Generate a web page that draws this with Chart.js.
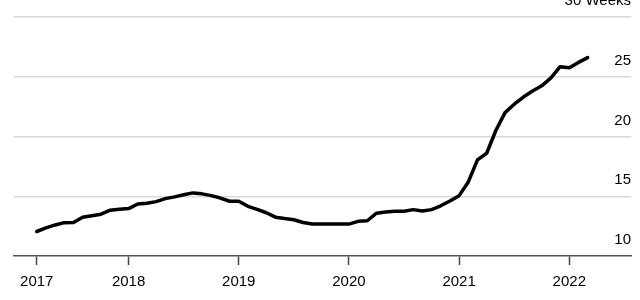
<!DOCTYPE html>
<html>
<head>
<meta charset="utf-8">
<script src="https://cdn.jsdelivr.net/npm/chart.js@4.4.1/dist/chart.umd.min.js"></script>
<style>
  html, body { margin: 0; padding: 0; background: #fff; }
  #wrap { width: 640px; height: 300px; }
</style>
</head>
<body>
<div id="wrap"><canvas id="chart"></canvas></div>
<script>
// monthly readings, Mar 2017 - Mar 2022
const months = [
    '2017-03', '2017-04', '2017-05', '2017-06', '2017-07', '2017-08', '2017-09', '2017-10', '2017-11', '2017-12',
    '2018-01', '2018-02', '2018-03', '2018-04', '2018-05', '2018-06', '2018-07', '2018-08', '2018-09', '2018-10', '2018-11', '2018-12',
    '2019-01', '2019-02', '2019-03', '2019-04', '2019-05', '2019-06', '2019-07', '2019-08', '2019-09', '2019-10', '2019-11', '2019-12',
    '2020-01', '2020-02', '2020-03', '2020-04', '2020-05', '2020-06', '2020-07', '2020-08', '2020-09', '2020-10', '2020-11', '2020-12',
    '2021-01', '2021-02', '2021-03', '2021-04', '2021-05', '2021-06', '2021-07', '2021-08', '2021-09', '2021-10', '2021-11', '2021-12',
    '2022-01', '2022-02', '2022-03'
];
const weeks = [
    12.05, 12.35, 12.6, 12.79, 12.8, 13.25, 13.37, 13.5, 13.83, 13.92,
    13.97, 14.35, 14.42, 14.55, 14.8, 14.95, 15.13, 15.28, 15.2, 15.05, 14.85, 14.58,
    14.58, 14.16, 13.9, 13.62, 13.25, 13.13, 13.03, 12.8, 12.68, 12.67, 12.67, 12.67,
    12.67, 12.9, 12.95, 13.58, 13.68, 13.74, 13.75, 13.88, 13.76, 13.88, 14.2, 14.6,
    15.05, 16.2, 18.05, 18.6, 20.5, 22.0, 22.7, 23.3, 23.8, 24.24, 24.9, 25.84,
    25.75, 26.2, 26.6
];
const yearTicks = ['2017-03', '2018-01', '2019-01', '2020-01', '2021-01', '2022-01'];
const yTicks = [10, 15, 20, 25, 30];

const toYear = (s) => {
    const [y, m] = s.split('-').map(Number);
    return y + (m - 1) / 12;
};

const points = months.map((m, i) => ({ x: toYear(m), y: weeks[i] }));
const font = { family: '"Liberation Sans", Arial, sans-serif', size: 15 };

new Chart(document.getElementById('chart'), {
    type: 'line',
    data: {
        datasets: [{
            data: points,
            borderColor: '#000',
            borderWidth: 3.5,
            borderJoinStyle: 'round',
            borderCapStyle: 'round',
            pointRadius: 0,
            tension: 0
        }]
    },
    options: {
        responsive: true,
        maintainAspectRatio: false,
        animation: false,
        layout: { padding: { left: 14, right: 9, top: 17, bottom: 1 } },
        plugins: { legend: { display: false }, tooltip: { enabled: false } },
        scales: {
            x: {
                type: 'linear',
                min: 2016.96,
                max: 2022.56,
                afterBuildTicks: (axis) => {
                    axis.ticks = yearTicks.map(s => ({ value: toYear(s) }));
                },
                grid: {
                    drawOnChartArea: false,
                    drawTicks: true,
                    tickLength: 9,
                    tickColor: '#444',
                    tickWidth: 1.5
                },
                border: { color: '#555', width: 1.5 },
                ticks: {
                    color: '#000',
                    font: font,
                    padding: 8,
                    maxRotation: 0,
                    autoSkip: false,
                    callback: (v) => String(Math.floor(v + 0.001))
                }
            },
            y: {
                position: 'right',
                min: 10,
                max: 30,
                afterBuildTicks: (axis) => {
                    axis.ticks = yTicks.map(v => ({ value: v }));
                },
                grid: {
                    color: (c) => c.tick && c.tick.value === 10 ? 'rgba(0,0,0,0)' : '#d8d8d8',
                    lineWidth: 1.5,
                    drawTicks: false
                },
                border: { display: false },
                ticks: {
                    mirror: true,
                    color: '#000',
                    font: font,
                    padding: 0,
                    labelOffset: -16,
                    callback: (v) => v === 30 ? '30 Weeks' : String(v)
                }
            }
        }
    }
});
</script>
</body>
</html>
